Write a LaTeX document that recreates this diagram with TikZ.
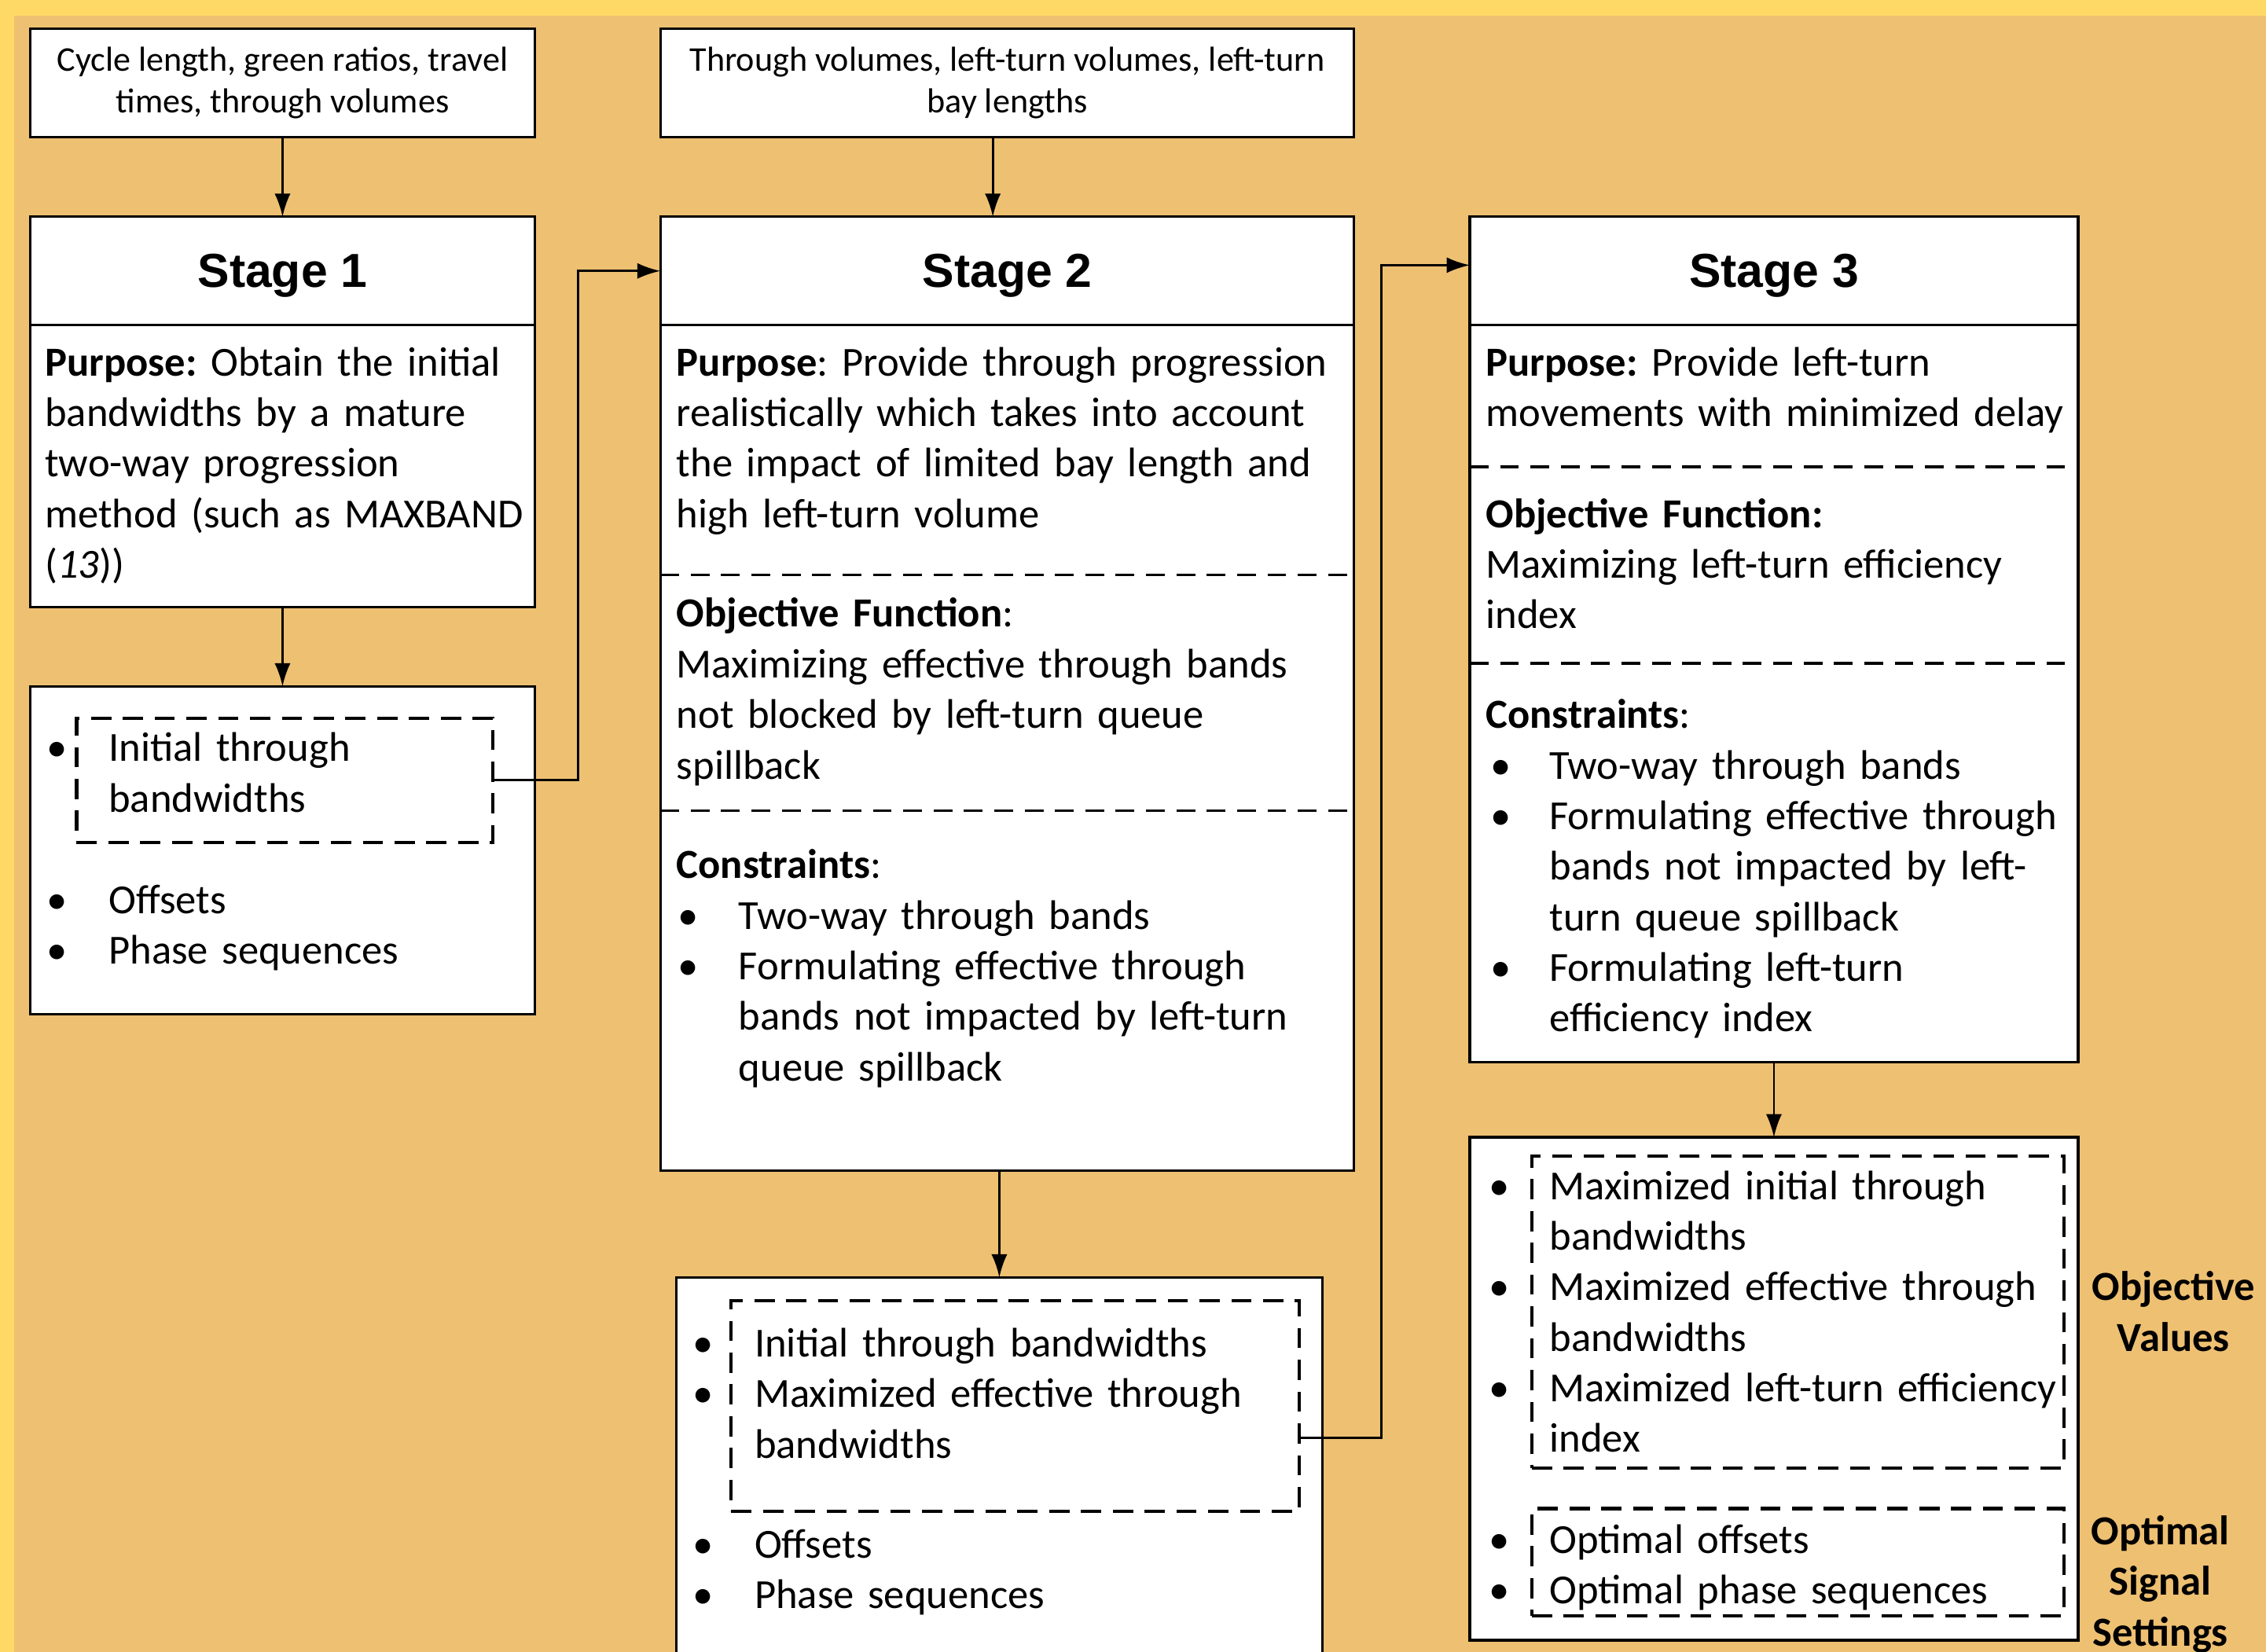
\documentclass[tikz,border=0pt]{standalone}
\usepackage{fontspec}
\setmainfont{Carlito}
\newfontfamily\headfont{Liberation Sans}
\usetikzlibrary{positioning,arrows.meta}

\definecolor{outerbg}{RGB}{255,217,102}
\definecolor{innerbg}{RGB}{238,192,114}

\newcommand{\bul}[2][0]{\makebox[#2pt][l]{\hspace*{#1pt}\textbullet}}
\newcommand{\nob}[1]{\hspace*{#1pt}}

\tikzset{
	box/.style={draw, fill=white, line width=1.8pt, inner sep=0pt, outer sep=0pt},
	head/.style={box, minimum height=75pt, text depth=-4pt, font=\headfont\bfseries\fontsize{33}{40}\selectfont},
	inbox/.style={box, minimum height=75pt, align=center, font=\fontsize{24}{29}\selectfont},
	dbox/.style={draw, line width=2.3pt, dash pattern=on 14pt off 8pt, inner sep=0pt, outer sep=0pt},
	sep/.style={line width=1.8pt, dash pattern=on 13pt off 8pt},
	txt/.style={anchor=base west, inner sep=0pt, align=left, text width=#1pt, font=\frenchspacing\fontsize{28.6}{35}\selectfont},
	side/.style={anchor=base, inner sep=0pt, align=center, text width=140pt, font=\bfseries\fontsize{28.6}{35}\selectfont},
	arr/.style={-{Latex[length=16pt,width=11pt]}, line width=1.6pt},
}

\begin{document}
\begin{tikzpicture}[x=1pt,y=-1pt]
	\clip (0,0) rectangle (1568,1143);
	%background
	\fill[outerbg] (0,0) rectangle (1568,1143);
	\fill[innerbg] (10,11) rectangle (1568,1143);

	%inputs
	\node[inbox, minimum width=349pt] (in1) at (195.5,57.5) {Cycle length, green ratios, travel\\times, through volumes};
	\node[inbox, minimum width=480pt] (in2) at (697,57.5) {Through volumes, left-turn volumes, left-turn\\bay lengths};

	%stages
	\node[head, minimum width=349pt] (st1) at (195.5,187.5) {Stage 1};
	\node[head, minimum width=480pt] (st2) at (697,187.5) {Stage 2};
	\node[head, minimum width=421pt] (st3) at (1227.5,187.5) {Stage 3};
	\node[box, minimum width=349pt, minimum height=195pt, below=0pt of st1] (st1b) {};
	\node[box, minimum width=480pt, minimum height=585pt, below=0pt of st2] (st2b) {};
	\node[box, minimum width=421pt, minimum height=510pt, below=0pt of st3] (st3b) {};
	\draw[sep] (st2b.west |- 0,398) -- (st2b.east |- 0,398);
	\draw[sep] (st2b.west |- 0,561) -- (st2b.east |- 0,561);
	\draw[sep] (st3b.west |- 0,323) -- (st3b.east |- 0,323);
	\draw[sep] (st3b.west |- 0,459) -- (st3b.east |- 0,459);

	%stage texts
	\node[txt=400] (p1) at (31,260) {\textbf{Purpose:} Obtain the initial\\bandwidths by a mature\\two-way progression\\method (such as MAXBAND\\(\textit{13}))};
	\node[txt=500] (p2) at (468,260) {\textbf{Purpose}: Provide through progression\\realistically which takes into account\\the impact of limited bay length and\\high left-turn volume};
	\node[txt=500] (o2) at (468,434) {\textbf{Objective Function}:\\Maximizing effective through bands\\not blocked by left-turn queue\\spillback};
	\node[txt=500] (c2) at (468,608) {\textbf{Constraints}:\\\bul[1]{43}Two-way through bands\\\bul[1]{43}Formulating effective through\\\nob{43}bands not impacted by left-turn\\\nob{43}queue spillback};
	\node[txt=480] (p3) at (1028,260) {\textbf{Purpose:} Provide left-turn\\movements with minimized delay};
	\node[txt=480] (o3) at (1028,365) {\textbf{Objective Function:}\\Maximizing left-turn efficiency\\index};
	\node[txt=480] (c3) at (1028,504) {\textbf{Constraints}:\\\bul[3]{44}Two-way through bands\\\bul[3]{44}Formulating effective through\\\nob{44}bands not impacted by left-\\\nob{44}turn queue spillback\\\bul[3]{44}Formulating left-turn\\\nob{44}efficiency index};

	%outputs
	\node[box, minimum width=349pt, minimum height=227pt] (out1) at (195.5,588.5) {};
	\node[dbox, minimum width=288pt, minimum height=86pt] (out1d) at (197,540) {};
	\node[txt=400] (r1) at (32,527) {\bul{43}Initial through\\\nob{43}bandwidths};
	\node[txt=400] (r1s) at (32,632) {\bul{43}Offsets\\\bul{43}Phase sequences};
	%
	\node[box, minimum width=447pt, minimum height=290pt] (out2) at (691.5,1029) {};
	\node[dbox, minimum width=393pt, minimum height=146pt] (out2d) at (702.5,973) {};
	\node[txt=480] (r2) at (479,939) {\bul{43}Initial through bandwidths\\\bul{43}Maximized effective through\\\nob{43}bandwidths};
	\node[txt=480] (r2s) at (479,1078) {\bul{43}Offsets\\\bul{43}Phase sequences};
	%
	\node[box, minimum width=421pt, minimum height=348pt] (out3) at (1227.5,961) {};
	\node[dbox, minimum width=368pt, minimum height=216pt] (out3a) at (1244,908) {};
	\node[dbox, minimum width=368pt, minimum height=74pt] (out3b) at (1244,1081) {};
	\node[txt=480] (r3) at (1030,830) {\bul{42}Maximized initial through\\\nob{42}bandwidths\\\bul{42}Maximized effective through\\\nob{42}bandwidths\\\bul{42}Maximized left-turn efficiency\\\nob{42}index};
	\node[txt=480] (r3s) at (1030,1075) {\bul{42}Optimal offsets\\\bul{42}Optimal phase sequences};

	%side labels
	\node[side] (ov) at (1504,900) {Objective\\Values};
	\node[side] (os) at (1495,1069) {Optimal\\Signal\\Settings};

	%arrows
	\draw[arr] (in1) -- (st1);
	\draw[arr] ([xshift=-10pt]in2.south) -- ([xshift=-10pt]st2.north);
	\draw[arr] (st1b) -- (out1);
	\draw[arr] (out1d.east) -- ++(59,0) |- (st2.west);
	\draw[arr] (st2b.south -| out2.north) -- (out2.north);
	\draw[arr] ([yshift=-22pt]out2d.east) -- ++(57,0) |- ([yshift=4pt]st3.west);
	\draw[arr] (st3b) -- (out3);
\end{tikzpicture}
\end{document}
